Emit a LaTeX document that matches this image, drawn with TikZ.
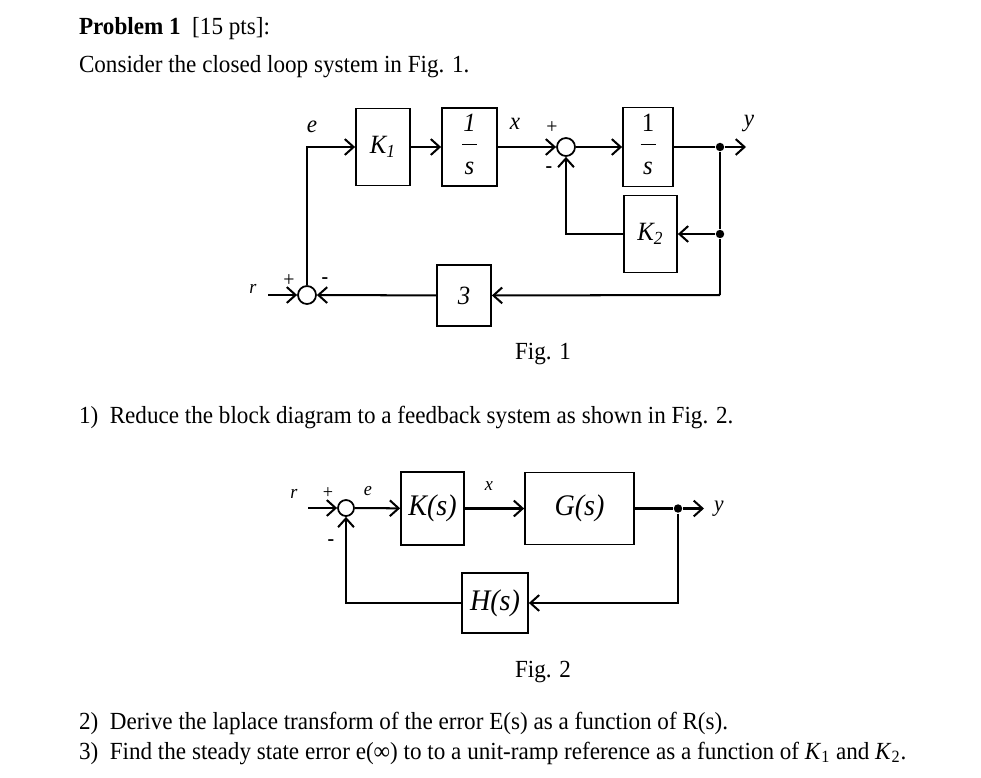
\documentclass[tikz,border=0pt]{standalone}
\usepackage{fontspec}
\setmainfont[FakeStretch=0.94]{Liberation Serif}
\usetikzlibrary{arrows.meta}
\newcommand{\frc}[2]{\begin{tabular}{@{}c@{}}\makebox[0.3cm]{#1}\\[2pt]\hline\rule{0pt}{17pt}#2\end{tabular}}

\begin{document}
\begin{tikzpicture}[x=0.02cm,y=-0.02cm,line width=1.15pt,
    >={Straight Barb[length=5pt,width=9pt]}]
\tikzstyle{every node}+=[inner sep=0pt]
\tikzstyle{txt}=[anchor=base west,font=\fontsize{14}{16}\selectfont]
\tikzstyle{lbl}=[font=\fontsize{14}{16}\selectfont\itshape]
\tikzstyle{sml}=[font=\fontsize{11}{13}\selectfont\itshape]
\tikzstyle{blk}=[draw,line width=1pt,font=\fontsize{15}{17}\selectfont\itshape]
\tikzstyle{bigblk}=[draw,line width=1pt,font=\fontsize{17}{19}\selectfont\itshape]
\tikzstyle{sum}=[draw,line width=1pt,circle,minimum size=0.36cm]
\tikzstyle{dot}=[fill,circle,minimum size=4.8pt]
\path[use as bounding box] (0,0) rectangle (981,778);
\node[txt] (title) at (78,34) {\textbf{Problem 1}\ \ [15 pts]:};
\node[txt] (intro) at (78,72) {Consider the closed loop system in Fig. 1.};
% Fig. 1
\node[blk,minimum width=1.08cm,minimum height=1.54cm] (k1) at (383,147) {K\textsubscript{1}};
\node[blk,minimum width=1.10cm,minimum height=1.56cm] (int1) at (469.5,147) {\frc{1}{s}};
\node[sum] (sum2) at (566,147) {};
\node[blk,minimum width=1.00cm,minimum height=1.58cm] (int2) at (648,147) {\frc{\upshape 1}{s}};
\node[dot] (d1) at (720,147) {};
\coordinate (yout) at (746,147);
\node[blk,minimum width=1.06cm,minimum height=1.54cm] (kk2) at (650.5,234) {K\textsubscript{2}};
\node[dot] (d2) at (720,234) {};
\coordinate (d3) at (720,295);
\node[blk,minimum width=1.08cm,minimum height=1.22cm] (three) at (464,295.5) {3};
\node[sum] (sum1) at (307,295) {};
\coordinate (rin) at (268,295);
\draw[->] (rin) -- (sum1);
\draw[->] (sum1.north) |- (k1.west);
\draw[->] (k1) -- (int1);
\draw[->] (int1) -- (sum2);
\draw[->] (sum2) -- (int2);
\draw (int2) -- (d1);
\draw[->] (d1) -- (yout);
\draw (d1) -- (d2) -- (d3);
\draw[->] (d2) -- (kk2);
\draw[->] (kk2.west) -| (sum2.south);
\draw[->] (d3) -- (three);
\draw[->] (three) -- (sum1);
\node[lbl] (le) at (312,127) {e};
\node[lbl] (lx) at (515,124) {x};
\node[lbl] (ly) at (749,124) {y};
\node[sml] (lr) at (253,289) {r};
\node[sml,font=\fontsize{12}{14}\selectfont] (p2) at (552,128) {+};
\node[sml,font=\fontsize{12}{14}\selectfont\bfseries] (m2) at (549,170) {-};
\node[sml,font=\fontsize{12}{14}\selectfont] (p1) at (289,281) {+};
\node[sml,font=\fontsize{12}{14}\selectfont\bfseries] (m1) at (325,281) {-};
\node[txt,anchor=base] (cap1) at (543,359) {Fig. 1};
\node[txt] (q1) at (78,423) {1)\ \ Reduce the block diagram to a feedback system as shown in Fig. 2.};
% Fig. 2
\node[sum,minimum size=0.32cm] (sumb) at (346,508) {};
\coordinate (rb) at (308,508);
\node[bigblk,minimum width=1.26cm,minimum height=1.46cm] (ks) at (432.5,508.5) {K(s)};
\node[bigblk,minimum width=2.18cm,minimum height=1.44cm] (gs) at (579.5,508.5) {G(s)};
\node[dot] (db) at (678,508.5) {};
\coordinate (yb) at (704,508.5);
\node[bigblk,minimum width=1.32cm,minimum height=1.20cm] (hs) at (495,603) {H(s)};
\draw[->] (rb) -- (sumb);
\draw[->] (sumb) -- (ks);
\draw[->] (ks) -- (gs);
\draw (gs) -- (db);
\draw[->] (db) -- (yb);
\draw[->] (db) |- (hs);
\draw[->] (hs) -| (sumb.south);
\node[sml] (lrb) at (294,494) {r};
\node[sml,font=\fontsize{11}{13}\selectfont] (pb) at (328,493) {+};
\node[sml] (leb) at (368,491) {e};
\node[sml] (lxb) at (489,486) {x};
\node[sml,font=\fontsize{13}{15}\selectfont\itshape] (lyb) at (719,509) {y};
\node[sml,font=\fontsize{12}{14}\selectfont\bfseries] (mb) at (331,543) {-};
\node[txt,anchor=base] (cap2) at (543,677) {Fig. 2};
\node[txt] (q2) at (78,729) {2)\ \ Derive the laplace transform of the error E(s) as a function of R(s).};
\node[txt] (q3) at (78,759) {3)\ \ Find the steady state error e(∞) to to a unit-ramp reference as a function of \textit{K}\textsubscript{1} and \textit{K}\textsubscript{2}.};
\end{tikzpicture}
\end{document}
